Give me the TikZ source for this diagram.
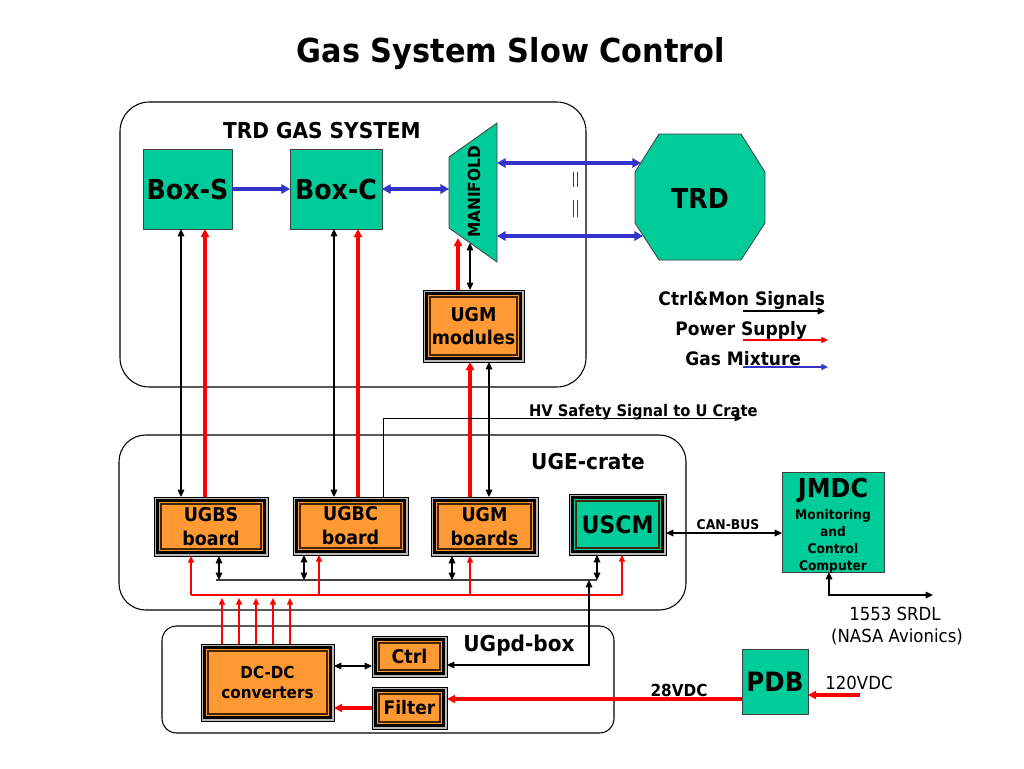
\documentclass[tikz,border=0pt]{standalone}
\usepackage{fontspec}
\setmainfont{DejaVu Sans}[FakeStretch=0.92]
\usetikzlibrary{shapes.geometric,arrows.meta,calc}
\definecolor{tgreen}{RGB}{0,204,153}
\definecolor{torange}{RGB}{255,153,51}
\definecolor{tblue}{RGB}{51,51,204}
\definecolor{tred}{RGB}{255,0,0}
\definecolor{tbrown}{RGB}{70,35,0}
\newcommand\fs[2]{\fontsize{#1pt}{#2pt}\selectfont\bfseries}
\tikzset{
  every node/.style={inner sep=0pt, outer sep=0pt},
  cont/.style={draw=black, line width=0.8pt, rounded corners=#1, inner sep=0pt},
  sz/.style 2 args={minimum width=#1*0.75pt, minimum height=#2*0.75pt},
  gbox/.style={draw=black!75, line width=0.6pt, fill=tgreen, inner sep=0pt, align=center},
  fbox/.style={draw=black, line width=0.5pt, fill=black!28, inner sep=0pt, align=center,
    path picture={
      \fill[black] ([shift={(1.7pt,-1.7pt)}]path picture bounding box.north west) rectangle ([shift={(-1.7pt,1.7pt)}]path picture bounding box.south east);
      \fill[#1] ([shift={(4pt,-4pt)}]path picture bounding box.north west) rectangle ([shift={(-4pt,4pt)}]path picture bounding box.south east);
      \draw[tbrown, line width=0.9pt] ([shift={(5.3pt,-5.3pt)}]path picture bounding box.north west) rectangle ([shift={(-5.3pt,5.3pt)}]path picture bounding box.south east);
    }},
  fbox/.default=torange,
  sig/.style={draw=black, line width=0.85pt, -{Triangle[length=5.5pt,width=5pt]}},
  sigb/.style={draw=black, line width=0.85pt, {Triangle[length=5.5pt,width=5pt]}-{Triangle[length=5.5pt,width=5pt]}},
  pow/.style={draw=tred, line width=2.4pt, -{Triangle[length=6pt,width=6pt]}},
  powthin/.style={draw=tred, line width=1pt, -{Triangle[length=5pt,width=4.5pt]}},
  redbus/.style={draw=tred, line width=1pt},
  bus/.style={draw=black!75, line width=0.9pt},
  gas/.style={draw=tblue, line width=2.7pt, -{Triangle[length=6.5pt,width=7pt]}},
  gasb/.style={draw=tblue, line width=2.7pt, {Triangle[length=6.5pt,width=7pt]}-{Triangle[length=6.5pt,width=7pt]}},
  gasthin/.style={draw=tblue, line width=1.1pt, -{Triangle[length=5pt,width=4.5pt]}},
  plain/.style={font=\fontsize{13.5pt}{16pt}\selectfont},
}
\begin{document}
\begin{tikzpicture}[x=0.75pt, y=-0.75pt]
\useasboundingbox (0,0) rectangle (1024,768);
\fill[white] (0,0) rectangle (1024,768);

% title
\node[anchor=base, font=\fs{24.75}{30}] (title) at (511,62) {Gas System Slow Control};

% containers
\node[cont=22pt, sz={466}{285}] (trdsys) at (353,244.5) {};
\node[cont=20pt, sz={567}{175}] (uge) at (402.5,522.5) {};
\node[cont=11pt, sz={452}{107}] (ugpd) at (388,679.5) {};
\node[anchor=base, font=\fs{16.4}{19}] (lblsys) at (322,138) {TRD GAS SYSTEM};
\node[anchor=base, font=\fs{16.4}{19}] (lbluge) at (588,469) {UGE-crate};
\node[anchor=base, font=\fs{16.4}{19}] (lblugpd) at (519,651) {UGpd-box};

% green boxes
\node[gbox, sz={89}{80}, font=\fs{20.6}{24}] (boxs) at (187.5,189) {Box-S};
\node[gbox, sz={92}{80}, font=\fs{20.6}{24}] (boxc) at (336,189) {Box-C};
\filldraw[fill=tgreen, draw=black!75, line width=0.6pt]
  (659,134) -- (741,134) -- (765,172) -- (765,223) -- (741,260) -- (659,260) -- (635,223) -- (635,172) -- cycle;
\node[font=\fs{20.6}{24}] (trd) at (700,198) {TRD};
\filldraw[fill=tgreen, draw=black!75, line width=0.6pt] (449,157) -- (497,123) -- (497,262) -- (449,228) -- cycle;
\node[rotate=90, font=\fs{12.5}{15}] (manifold) at (474,192) {MANIFOLD};

% framed boxes
\node[fbox, sz={101}{72}, font=\fs{14.25}{17.25}] (ugmmod) at (473.5,326) {UGM\\modules};
\node[fbox, sz={114}{59}, font=\fs{14.25}{18}] (ugbs) at (211,526.5) {UGBS\\board};
\node[fbox, sz={115}{58}, font=\fs{14.25}{18}] (ugbc) at (350.5,526) {UGBC\\board};
\node[fbox, sz={107}{59}, font=\fs{14.25}{18}] (ugmb) at (484.5,526.5) {UGM\\boards};
\node[fbox=tgreen, sz={97}{61}, font=\fs{18}{21}] (uscm) at (617.5,524.5) {USCM};
\node[fbox, sz={133}{77}, font=\fs{12.4}{15}] (dcdc) at (267.5,682.5) {DC-DC\\converters};
\node[fbox, sz={75}{41}, font=\fs{14.25}{17}] (ctrl) at (409.5,656.5) {Ctrl};
\node[fbox, sz={75}{42}, font=\fs{14}{17}] (filter) at (409.5,708) {Filter};

% JMDC, PDB
\node[gbox, sz={102}{100}] (jmdc) at (833,522) {};
\node[anchor=base, font=\fs{19.5}{22}] (jmdct) at (833,497) {JMDC};
\node[anchor=north, align=center, font=\fs{10}{12.75}] (jmdcs) at (833,509) {Monitoring\\and\\Control\\Computer};
\node[gbox, sz={66}{65}, font=\fs{20}{24}] (pdb) at (775,681.5) {PDB};

% labels
\node[anchor=base west, font=\fs{12}{14}] (hv) at (529,416) {HV Safety Signal to U Crate};
\node[anchor=base, font=\fs{10.1}{12}] (can) at (728,529) {CAN-BUS};
\node[anchor=base, font=\fs{12.45}{15}] (v28) at (679,696) {28VDC};
\node[anchor=base, plain] (srdl1) at (895,620) {1553 SRDL};
\node[anchor=base, plain] (srdl2) at (897,642) {(NASA Avionics)};
\node[anchor=base, plain] (v120) at (859,689) {120VDC};

% legend
\node[anchor=base east, font=\fs{13.9}{16}] (lg1) at (825,305) {Ctrl\&Mon Signals};
\node[anchor=base east, font=\fs{13.9}{16}] (lg2) at (807,335) {Power Supply};
\node[anchor=base east, font=\fs{13.9}{16}] (lg3) at (801,365) {Gas Mixture};
\coordinate (l1a) at (743,311); \coordinate (l1b) at (825,311);
\coordinate (l2a) at (743,340); \coordinate (l2b) at (828,340);
\coordinate (l3a) at (743,367); \coordinate (l3b) at (828,367);
\draw[sig] (l1a) -- (l1b);
\draw[powthin] (l2a) -- (l2b);
\draw[gasthin] (l3a) -- (l3b);

% helper coordinates
\coordinate (xA) at (181,0); \coordinate (xB) at (205,0);
\coordinate (xC) at (334,0); \coordinate (xD) at (358,0);
\coordinate (xE) at (470,0); \coordinate (xF) at (489,0);
\coordinate (xG) at (458,0);
\coordinate (manL) at (449,189);
\coordinate (manR1) at (497,163); \coordinate (manR2) at (497,236);
\coordinate (trdin1) at (641,163); \coordinate (trdin2) at (643,236);
\coordinate (manB1) at (458,238); \coordinate (manB2) at (470,243);

% gas connectors
\draw[gas] (boxs) -- (boxc);
\draw[gasb] (boxc.east) -- (manL);
\draw[gasb] (manR1) -- (trdin1);
\draw[gasb] (manR2) -- (trdin2);
\draw[black!75, line width=0.9pt] (573.5,172) -- (573.5,187) (577.5,172) -- (577.5,187)
  (573.5,200) -- (573.5,217) (577.5,200) -- (577.5,217);

% power and signal up to the gas system
\draw[pow] (xB |- ugbs.north) -- (xB |- boxs.south);
\draw[pow] (xD |- ugbc.north) -- (xD |- boxc.south);
\draw[pow] (xE |- ugmb.north) -- (xE |- ugmmod.south);
\draw[pow] (xG |- ugmmod.north) -- (manB1);
\draw[sigb] (xA |- boxs.south) -- (xA |- ugbs.north);
\draw[sigb] (xC |- boxc.south) -- (xC |- ugbc.north);
\draw[sigb] (xF |- ugmmod.south) -- (xF |- ugmb.north);
\draw[sigb] (xE |- ugmmod.north) -- (manB2);

% HV safety
\coordinate (xH) at (383,0); \coordinate (yH) at (0,418); \coordinate (hvend) at (742,418);
\draw[sig, line width=0.75pt] (xH |- ugbc.north) -- (xH |- yH) -- (hvend);

% buses
\coordinate (ybus) at (0,580); \coordinate (yred) at (0,595); \coordinate (yarr) at (0,598);
\coordinate (busL) at (216,580); \coordinate (busR) at (597,580);
\coordinate (redL) at (191,595); \coordinate (redR) at (622,595);
\draw[bus] (busL) -- (busR);
\draw[redbus] (redL) -- (redR);
\foreach \x/\n in {219/ugbs, 304/ugbc, 452/ugmb, 597/uscm} {
  \coordinate (t) at (\x,0);
  \draw[sigb] (t |- \n.south) -- (t |- ybus);
}
\foreach \x/\n in {191/ugbs, 319/ugbc, 470/ugmb, 622/uscm} {
  \coordinate (t) at (\x,0);
  \draw[powthin] (t |- yred) -- (t |- \n.south);
}
\foreach \x in {222,239,256,273,290} {
  \coordinate (t) at (\x,0);
  \draw[powthin] (t |- dcdc.north) -- (t |- yarr);
}

% UGpd box connections
\coordinate (xctl) at (589,0); \coordinate (yc) at (0,665); \coordinate (ydc) at (0,666);
\draw[sigb] (xctl |- ybus) -- (xctl |- yc) -- (ctrl.east |- yc);
\draw[sigb] (dcdc.east |- ydc) -- (ctrl.west |- ydc);
\draw[pow] (filter.west) -- (dcdc.east |- filter.west);
\coordinate (y28) at (0,699);
\draw[pow] (pdb.west |- y28) -- (filter.east |- y28);
\coordinate (in120) at (860,695);
\draw[pow] (in120) -- (pdb.east |- in120);

% CAN bus and 1553
\coordinate (ycan) at (0,533);
\draw[sigb] (uscm.east |- ycan) -- (jmdc.west |- ycan);
\coordinate (x1553) at (829,0); \coordinate (y1553) at (0,595); \coordinate (srdl) at (933,595);
\draw[sigb] (x1553 |- jmdc.south) -- (x1553 |- y1553) -- (srdl);
\end{tikzpicture}
\end{document}
